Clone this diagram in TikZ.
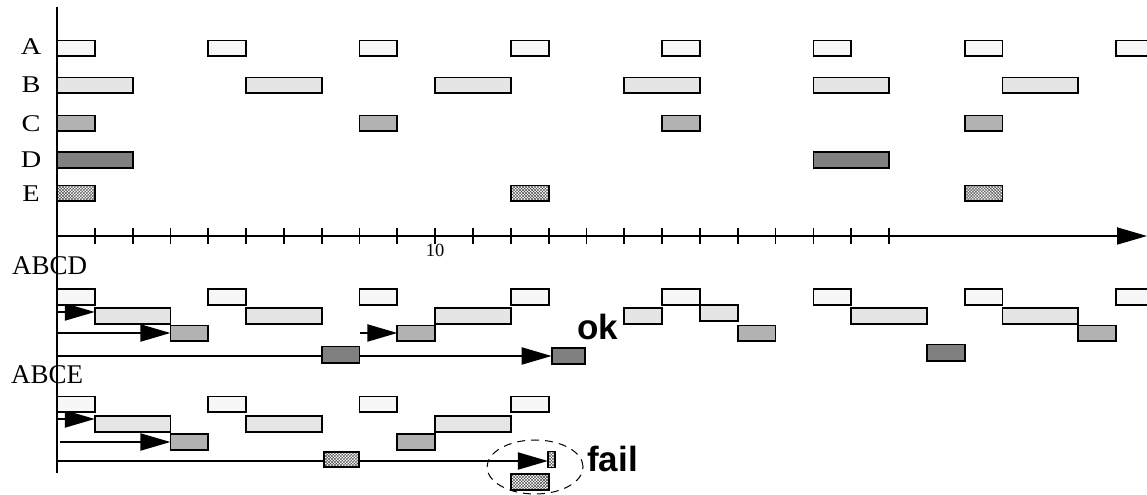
\documentclass[tikz,border=0pt]{standalone}
\usepackage{fontspec}
\setmainfont{Liberation Serif}
\newfontfamily\hv{Liberation Sans}
\usetikzlibrary{arrows.meta,patterns,shapes.geometric}
\pgfdeclarelayer{bg}
\pgfsetlayers{bg,main}
\newcommand\tb[5]{\node[#1, minimum width={(#3)*37.82bp}, anchor=west] (#5) at (#2,#4) {};}
\begin{document}
\begin{tikzpicture}[x=37.82bp, y=-1bp,
  bx/.style={draw=black, line width=1.8bp, inner sep=0pt, outer sep=0pt, minimum height=15.5bp},
  bA/.style={bx, fill=black!3},
  bB/.style={bx, fill=black!10},
  bC/.style={bx, fill=black!30},
  bD/.style={bx, fill=black!50},
  bE/.style={bx, preaction={fill=white}, pattern=crosshatch, pattern color=black!70},
  lbl/.style={font=\fontsize{24bp}{26bp}\selectfont, anchor=base, inner sep=0pt},
  sec/.style={font=\fontsize{27bp}{30bp}\selectfont, anchor=base west, inner sep=0pt},
  res/.style={font=\hv\bfseries\fontsize{35bp}{38bp}\selectfont, anchor=base, inner sep=0pt},
  axis/.style={line width=1.8bp},
  arr/.style={line width=2bp, -{Triangle[length=30bp,width=17bp]}},
]
\useasboundingbox (-1.5071,0) rectangle (28.8207,495);

% row labels
\node[lbl] (lA) at (-0.687,55) {\scalebox{1.18}[1]{A}};
\node[lbl] (lB) at (-0.687,92.5) {\scalebox{1.18}[1]{B}};
\node[lbl] (lC) at (-0.687,131.3) {\scalebox{1.18}[1]{C}};
\node[lbl] (lD) at (-0.687,168) {\scalebox{1.18}[1]{D}};
\node[lbl] (lE) at (-0.687,201.3) {\scalebox{1.18}[1]{E}};

% top schedule
\foreach \t [count=\i] in {0,4,...,28} {\tb{bA}{\t}{1}{48.3}{a\i}}
\foreach \t [count=\i] in {0,5,...,25} {\tb{bB}{\t}{2}{85.3}{b\i}}
\foreach \t [count=\i] in {0,8,16,24} {\tb{bC}{\t}{1}{123.3}{c\i}}
\foreach \t [count=\i] in {0,20} {\tb{bD,minimum height=16.3bp}{\t}{2}{160}{d\i}}
\foreach \t [count=\i] in {0,12,24} {\tb{bE}{\t}{1}{193.3}{e\i}}

% time axis
\coordinate (o) at (0,236);
\coordinate (tend) at (28.8207,236);
\draw[axis, -{Triangle[length=30bp,width=17bp]}] (o) -- (tend);
\foreach \i in {1,...,22} {\draw[axis] (\i,228) -- (\i,244);}
\node[font=\fontsize{18.5bp}{20bp}\selectfont, anchor=base, inner sep=0pt] (ten) at (10,256.5) {10};

% section labels
\node[sec] (abcd) at (-1.19,275) {ABCD};
\node[sec] (abce) at (-1.216,383.3) {ABCE};

% vertical axis
\coordinate (vtop) at (0,7);
\coordinate (vbot) at (0,473);
\draw[axis] (vtop) -- (vbot);

% ABCD section
\foreach \t [count=\i] in {0,4,...,28} {\tb{bA,minimum height=16bp}{\t}{1}{296.7}{da\i}}
\foreach \s/\d/\y [count=\i] in {1/2/315.7, 5/2/315.7, 10/2/315.7, 15/1/315.7, 17/1/312.7, 21/2/315.7, 25/2/315.7}
  {\tb{bB,minimum height=16bp}{\s}{\d}{\y}{db\i}}
\foreach \t [count=\i] in {3,9,18,27} {\tb{bC}{\t}{1}{333.3}{dc\i}}
\foreach \s/\d/\y [count=\i] in {7/1/354.7, 13.08/0.88/355.8, 23/1/352.7}
  {\tb{bD,minimum height=16.3bp}{\s}{\d}{\y}{dd\i}}
\coordinate (s1) at (0,312);
\coordinate (s2) at (0,333);
\coordinate (s3) at (8,333);
\coordinate (s4) at (0,356);
\begin{pgfonlayer}{bg}
\draw[arr] (s1) -- (s1 -| db1.west);
\draw[arr] (s2) -- (s2 -| dc1.west);
\draw[arr] (s3) -- (s3 -| dc2.west);
\draw[arr] (s4) -- (s4 -| dd2.west);
\end{pgfonlayer}
\node[res] (ok) at (14.30,340) {ok};

% ABCE section
\foreach \t [count=\i] in {0,4,8,12} {\tb{bA}{\t}{1}{404.3}{ea\i}}
\foreach \t [count=\i] in {1,5,10} {\tb{bB,minimum height=16.3bp}{\t}{2}{424}{eb\i}}
\foreach \t [count=\i] in {3,9} {\tb{bC,minimum height=16.3bp}{\t}{1}{442}{ec\i}}
\tb{bE,minimum height=15bp}{7.05}{0.93}{459.2}{ee1}
\tb{bE,minimum height=15.6bp,line width=1.3bp}{12.98}{0.19}{459.5}{ee2}
\tb{bE,minimum height=16.3bp}{12}{1}{481.8}{ee3}
\coordinate (t1) at (0,419);
\coordinate (t2) at (0.08,442);
\coordinate (t3) at (0,461);
\begin{pgfonlayer}{bg}
\draw[arr] (t1) -- (t1 -| eb1.west);
\draw[arr] (t2) -- (t2 -| ec1.west);
\draw[arr] (t3) -- (t3 -| ee2.west);
\end{pgfonlayer}
\node[ellipse, draw, dashed, dash pattern=on 8bp off 6bp, line width=1bp,
  minimum width=96bp, minimum height=54bp, inner sep=0pt] (ring) at (12.64,467) {};
\node[res] (fail) at (14.69,471.7) {fail};
\end{tikzpicture}
\end{document}
